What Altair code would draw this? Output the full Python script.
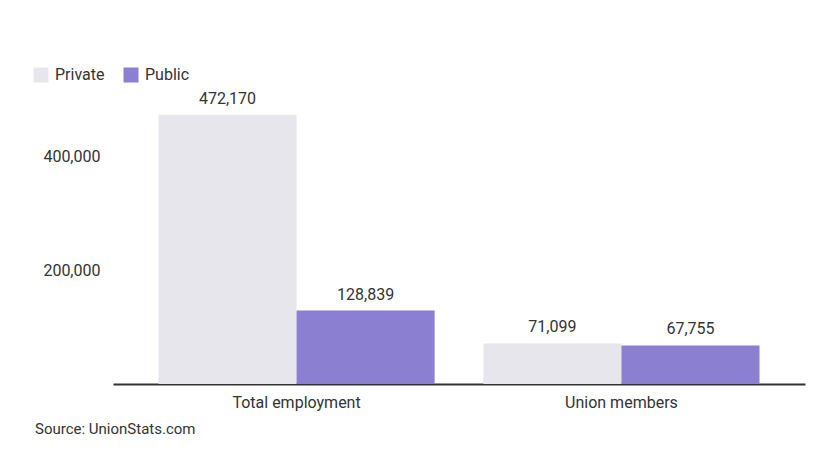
import altair as alt
import pandas as pd

categories = ["Total employment", "Union members"]
sectors = ["Private", "Public"]
private_vals = [472170, 71099]
public_vals = [128839, 67755]
colors = ["#e6e6ec", "#8a7fd0"]

rows = []
for i, c in enumerate(categories):
    rows.append({"category": c, "sector": "Private", "value": private_vals[i]})
    rows.append({"category": c, "sector": "Public", "value": public_vals[i]})
df = pd.DataFrame(rows)

FONT = "Roboto"
FS = 16

y_enc = alt.Y("value:Q", scale=alt.Scale(domain=[0, 500000]),
              axis=alt.Axis(title=None, values=[200000, 400000], format=",.0f", grid=False,
                            domain=False, ticks=False, labelFontSize=FS, labelColor="#333",
                            labelPadding=13, labelFont=FONT))

base = alt.Chart(df).encode(
    x=alt.X("category:N", sort=categories,
            scale=alt.Scale(paddingInner=0.15, paddingOuter=0.14),
            axis=alt.Axis(title=None, labelAngle=0, labelFontSize=FS, labelColor="#333",
                          labelPadding=10, ticks=False, domainColor="#333", domainWidth=2,
                          labelFont=FONT)),
    xOffset=alt.XOffset("sector:N", sort=sectors),
    y=y_enc,
)

bars = base.mark_bar().encode(
    color=alt.Color("sector:N", sort=sectors,
                    scale=alt.Scale(domain=sectors, range=colors),
                    legend=alt.Legend(title=None, orient="none", legendX=-80, legendY=-32,
                                      direction="horizontal", symbolType="square",
                                      symbolSize=225, labelFontSize=FS, labelColor="#333",
                                      labelFont=FONT, columnPadding=18, labelOffset=6,
                                      symbolStrokeWidth=0)),
)

labels = base.mark_text(baseline="bottom", dy=-8, fontSize=FS, color="#333", font=FONT).encode(
    text=alt.Text("value:Q", format=",.0f"),
)

chart = (bars + labels).properties(
    width=692,
    height=285,
    autosize=alt.AutoSizeParams(type="none"),
    padding={"left": 113, "top": 99, "right": 9, "bottom": 67},
    title=alt.Title("Source: UnionStats.com", orient="bottom", anchor="start", frame="group",
                    fontSize=15, fontWeight="normal", color="#333", font=FONT, dx=-78, offset=12),
).configure(background="white").configure_view(stroke=None)

chart.save("out.html", embed_options={"renderer": "svg", "actions": False})
